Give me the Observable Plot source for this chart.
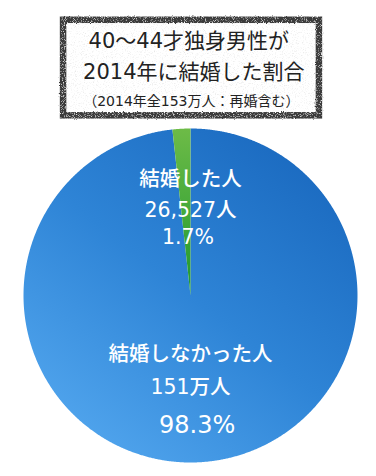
<!DOCTYPE html>
<html><head><meta charset="utf-8">
<script src="https://cdn.jsdelivr.net/npm/d3@7"></script>
<script src="https://cdn.jsdelivr.net/npm/@observablehq/plot@0.6"></script>
<style>body{margin:0;background:#fff}</style>
</head><body><div id="chart"></div>
<script>
// ---- data ----
const categories = ["結婚しなかった人", "結婚した人"];
const counts = [1510000, 26527];
const countLabels = ["151万人", "26,527人"];
const percentLabels = ["98.3%", "1.7%"];
const titleLines = ["40〜44才独身男性が", "2014年に結婚した割合", "（2014年全153万人：再婚含む）"];

// ---- layout (positions in units of pie radius, styles) ----
const sliceFills = ["url(#blueGrad)", "url(#greenGrad)"];
const labelLayout = [
  [{x: 0, y: -0.353, size: 20.5}, {x: 0, y: -0.551, size: 20.5}, {x: 0.04, y: -0.778, size: 24}],
  [{x: 0, y: 0.695, size: 20.5}, {x: 0, y: 0.509, size: 20.5}, {x: -0.015, y: 0.347, size: 20.5}]
];
const titleLayout = [{x: -0.01, y: 1.524, size: 21}, {x: 0.02, y: 1.335, size: 21}, {x: 0.005, y: 1.16, size: 14}];

// ---- derived geometry ----
const arcs = d3.pie().sort(null).value(d => d)(counts);
const slices = arcs.map((a) => {
  const pts = [{x: 0, y: 0}];
  const n = Math.max(4, Math.ceil((a.endAngle - a.startAngle) / 0.005));
  for (let k = 0; k <= n; k++) {
    const t = a.startAngle + (a.endAngle - a.startAngle) * k / n;
    pts.push({x: Math.sin(t), y: Math.cos(t)});
  }
  pts.push({x: 0, y: 0});
  return pts;
});
const labelRows = [];
categories.forEach((c, i) => {
  [c, countLabels[i], percentLabels[i]].forEach((t, j) => {
    labelRows.push({text: t, ...labelLayout[i][j]});
  });
});
const titleRows = titleLines.map((t, i) => ({text: t, ...titleLayout[i]}));

const FONT = "'DejaVu Sans', 'Noto Sans CJK JP', sans-serif";

const defs = () => {
  const d = d3.create("svg:defs");
  const bg = d.append("linearGradient").attr("id", "blueGrad")
    .attr("x1", 0.85).attr("y1", 0.05).attr("x2", 0.15).attr("y2", 0.95);
  bg.append("stop").attr("offset", 0).attr("stop-color", "#1a69bf");
  bg.append("stop").attr("offset", 0.5).attr("stop-color", "#2e84d6");
  bg.append("stop").attr("offset", 1).attr("stop-color", "#52a6ee");
  const gg = d.append("linearGradient").attr("id", "greenGrad")
    .attr("x1", 0).attr("y1", 0).attr("x2", 0).attr("y2", 1);
  gg.append("stop").attr("offset", 0).attr("stop-color", "#6dbb47");
  gg.append("stop").attr("offset", 1).attr("stop-color", "#1e982f");
  const sh = d.append("filter").attr("id", "shadow").attr("x", "-20%").attr("y", "-40%").attr("width", "140%").attr("height", "180%");
  sh.append("feDropShadow").attr("dx", 1.2).attr("dy", 1.6).attr("stdDeviation", 1.3)
    .attr("flood-color", "#0a2540").attr("flood-opacity", 0.85);
  const gr = d.append("filter").attr("id", "grunge").attr("x", "-5%").attr("y", "-5%").attr("width", "110%").attr("height", "110%");
  gr.append("feTurbulence").attr("type", "fractalNoise").attr("baseFrequency", 0.9).attr("numOctaves", 2).attr("seed", 4).attr("result", "noise");
  gr.append("feDisplacementMap").attr("in", "SourceGraphic").attr("in2", "noise").attr("scale", 2.5).attr("xChannelSelector", "R").attr("yChannelSelector", "G").attr("result", "rough");
  gr.append("feColorMatrix").attr("in", "noise").attr("type", "matrix")
    .attr("values", "0 0 0 0 0.8  0 0 0 0 0.8  0 0 0 0 0.8  -3 0 0 0 1.4").attr("result", "specks");
  gr.append("feComposite").attr("in", "specks").attr("in2", "rough").attr("operator", "in").attr("result", "sp");
  const m = gr.append("feMerge");
  m.append("feMergeNode").attr("in", "rough");
  m.append("feMergeNode").attr("in", "sp");
  return d.node();
};

const titleBox = (index, scales) => {
  const x1 = scales.x(-0.76), x2 = scales.x(0.772), y1 = scales.y(1.648), y2 = scales.y(1.076);
  return d3.create("svg:rect")
    .attr("x", x1).attr("y", y1).attr("width", x2 - x1).attr("height", y2 - y1)
    .attr("fill", "#fff").attr("stroke", "#3a3a3a").attr("stroke-width", 6.5)
    .attr("filter", "url(#grunge)").node();
};

const chart = Plot.plot({
  width: 376,
  height: 476,
  margin: 0,
  x: {domain: [-1, 1], range: [23, 357], axis: null},
  y: {domain: [-1, 1], range: [462, 128], axis: null},
  style: {background: "#fff", fontFamily: FONT, overflow: "visible"},
  marks: [
    defs,
    ...slices.map((pts, i) => Plot.line(pts, {x: "x", y: "y", fill: sliceFills[i], stroke: "none", curve: "linear"})),
    Plot.text(labelRows, {x: "x", y: "y", text: "text", fontSize: "size", fill: "#fff", fontWeight: 500, ariaLabel: "pie-labels"}),
    titleBox,
    Plot.text(titleRows, {x: "x", y: "y", text: "text", fontSize: "size", fill: "#222", ariaLabel: "title"})
  ]
});
const lg = chart.querySelector('g[aria-label="pie-labels"]');
if (lg) lg.setAttribute("filter", "url(#shadow)");
document.getElementById("chart").appendChild(chart);
</script>
</body></html>
